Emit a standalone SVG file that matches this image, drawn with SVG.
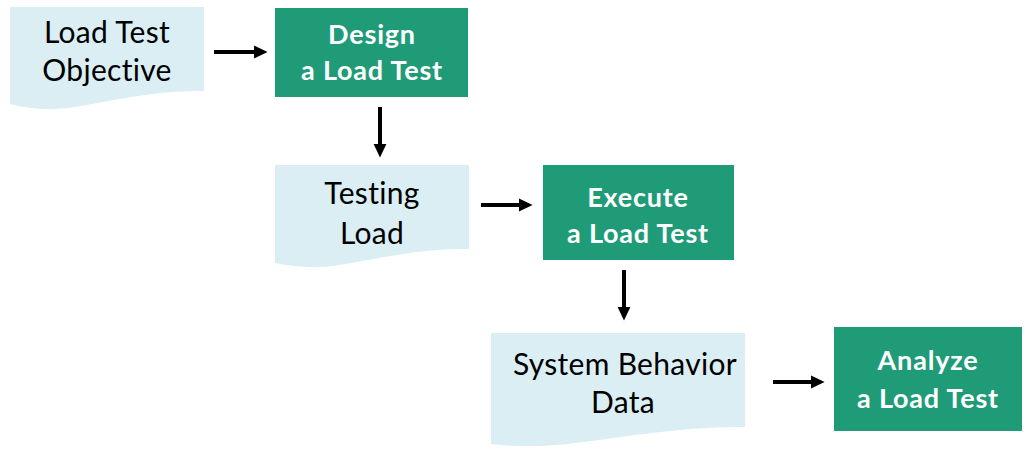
<svg xmlns="http://www.w3.org/2000/svg" width="1034" height="468" viewBox="0 0 1034 468">
<defs>
<style>
.doc{fill:#daeef3}
.proc{fill:#1f9b78}
.dt{font-family:Lato,"Liberation Sans",sans-serif;font-size:30px;letter-spacing:0.3px;font-variant-ligatures:none;fill:#000;text-anchor:middle}
.pt{font-family:Lato,"Liberation Sans",sans-serif;font-size:27px;letter-spacing:0.8px;font-weight:bold;font-variant-ligatures:none;fill:#fff;text-anchor:middle}
.conn{stroke:#000;stroke-width:4;fill:none}
</style>
<marker id="ah" markerWidth="4" markerHeight="4" refX="0.5" refY="2" orient="auto" markerUnits="strokeWidth" viewBox="0 0 4 4"><path d="M0,0.4 L3.4,2 L0,3.6 Z" fill="#000"/></marker>
</defs>
<rect width="1034" height="468" fill="#fff"/>
<g id="connectors">
<line class="conn" x1="214" y1="52" x2="256" y2="52" marker-end="url(#ah)"/>
<line class="conn" x1="380" y1="107" x2="380" y2="146" marker-end="url(#ah)"/>
<line class="conn" x1="481" y1="205" x2="521" y2="205" marker-end="url(#ah)"/>
<line class="conn" x1="624" y1="270" x2="624" y2="309" marker-end="url(#ah)"/>
<line class="conn" x1="773" y1="382" x2="813" y2="382" marker-end="url(#ah)"/>
</g>
<g id="doc1">
<path class="doc" d="M10,7 H204 V91 C160,90 115,100 75,107 C50,111 30,109 10,104 Z"/>
<text class="dt" x="107" y="43">Load Test</text>
<text class="dt" x="107" y="81">Objective</text>
</g>
<g id="proc1">
<rect class="proc" x="275" y="8" width="193" height="89"/>
<text class="pt" x="372" y="44">Design</text>
<text class="pt" x="372" y="80">a Load Test</text>
</g>
<g id="doc2">
<path class="doc" d="M275,165 H469 V249 C425,248 380,258 340,265 C315,269 295,267 275,263 Z"/>
<text class="dt" x="372" y="204">Testing</text>
<text class="dt" x="372" y="244">Load</text>
</g>
<g id="proc2">
<rect class="proc" x="543" y="165" width="191" height="95"/>
<text class="pt" x="638" y="207">Execute</text>
<text class="pt" x="638" y="243">a Load Test</text>
</g>
<g id="doc3">
<path class="doc" d="M491,333 H745 V427 C690,426 630,436 575,443 C545,447 515,447 491,444 Z"/>
<text class="dt" x="625" y="375">System Behavior</text>
<text class="dt" x="623" y="413">Data</text>
</g>
<g id="proc3">
<rect class="proc" x="834" y="327" width="188" height="104"/>
<text class="pt" x="928" y="370">Analyze</text>
<text class="pt" x="928" y="408">a Load Test</text>
</g>
</svg>
